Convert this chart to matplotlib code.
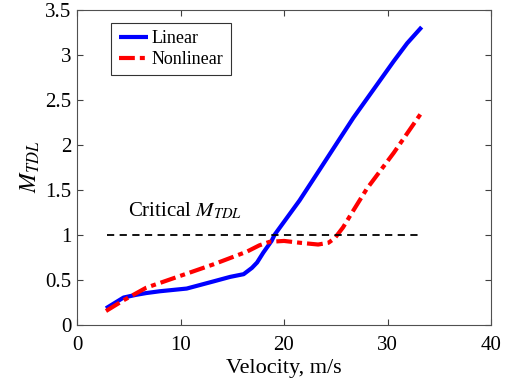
#!/usr/bin/env python

import numpy as np
import matplotlib
matplotlib.use("Agg")
import matplotlib.pyplot as plt

# ---------- data ----------
v_lin = [2.8, 4.5, 5.7, 6.7, 8.0, 10.6, 11.9, 13.2, 14.8, 16.1, 16.9, 17.4,
         18.0, 18.8, 19.1, 21.5, 23.2, 25.4, 26.7, 28.0, 29.3, 30.6, 31.9, 33.3]
m_lin = [0.18, 0.30, 0.33, 0.35, 0.37, 0.40, 0.44, 0.48, 0.53, 0.56, 0.63, 0.69,
         0.80, 0.93, 1.00, 1.38, 1.68, 2.07, 2.30, 2.51, 2.72, 2.93, 3.13, 3.31]

v_non = [2.8, 4.5, 6.7, 9.95, 13.2, 16.4, 17.6, 18.6, 20.0, 21.5, 23.3, 24.3,
         24.9, 25.7, 26.6, 28.0, 30.6, 33.3]
m_non = [0.15, 0.27, 0.41, 0.54, 0.67, 0.81, 0.88, 0.92, 0.93, 0.91, 0.89, 0.91,
         0.96, 1.08, 1.25, 1.51, 1.91, 2.36]

v_crit = [2.9, 33.1]
m_crit = [1.0, 1.0]

x_ticks = [0, 10, 20, 30, 40]
y_ticks = [0, 0.5, 1, 1.5, 2, 2.5, 3, 3.5]
y_ticklabels = ["0", "0.5", "1", "1.5", "2", "2.5", "3", "3.5"]

# ---------- style ----------
plt.rcParams["font.family"] = "Liberation Serif"
plt.rcParams["mathtext.fontset"] = "stix"

fig = plt.figure(figsize=(5.1, 3.83), dpi=100)
ax = fig.add_axes([77 / 510, 58.5 / 383, 414 / 510, 314.5 / 383])

ax.plot(v_lin, m_lin, color="#0000ff", lw=3.0, label="Linear",
        solid_joinstyle="round", solid_capstyle="butt")
ax.plot(v_non, m_non, color="#ff0000", lw=3.0,
        linestyle=(0, (3.8, 1.2, 1.2, 1.2)), label="Nonlinear")
ax.plot(v_crit, m_crit, color="black", lw=1.3, linestyle=(0, (4, 3)))

ax.text(4.9, 1.2, "Critical $M_{TDL}$", fontsize=15)

ax.set_xlim(0, 40)
ax.set_ylim(0, 3.5)
ax.set_xticks(x_ticks)
ax.set_yticks(y_ticks)
ax.set_yticklabels(y_ticklabels)
ax.tick_params(direction="in", top=True, right=True, length=4,
               color="#404040", labelsize=15)
ax.tick_params(axis="x", pad=8)
ax.tick_params(axis="y", pad=4)
for s in ax.spines.values():
    s.set_color("#505050")
    s.set_linewidth(0.8)

ax.set_xlabel("Velocity, m/s", fontsize=16, labelpad=3)
ax.set_ylabel("$M_{TDL}$", fontsize=17, labelpad=2)

leg = ax.legend(loc="upper left", bbox_to_anchor=(0.083, 0.958),
                fontsize=13, handlelength=1.65, handletextpad=0.2,
                borderpad=0.4, labelspacing=0.2, fancybox=False,
                borderaxespad=0)
leg.get_frame().set_edgecolor("black")
leg.get_frame().set_linewidth(0.8)

fig.savefig("out.png", dpi=100)
